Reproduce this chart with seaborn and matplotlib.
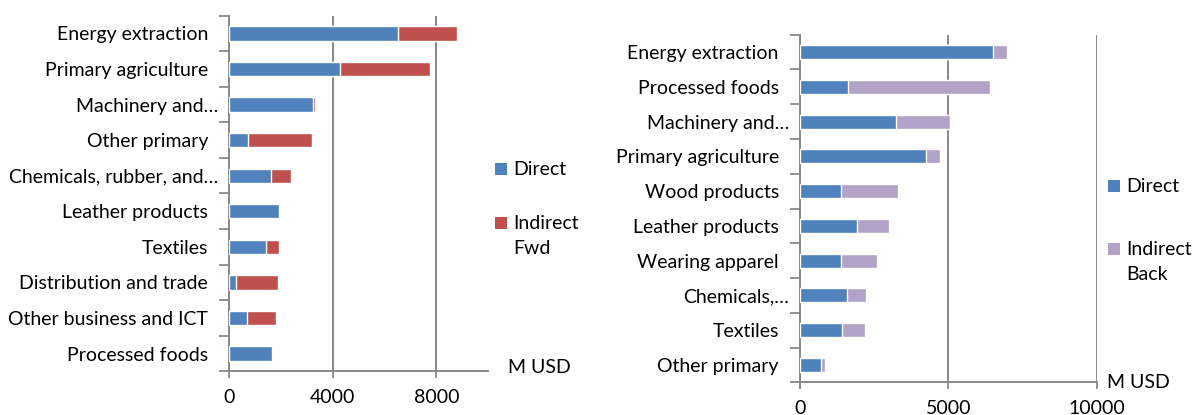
import matplotlib
matplotlib.use("Agg")
import matplotlib.pyplot as plt
from matplotlib.patches import Rectangle
from matplotlib.transforms import ScaledTranslation
import numpy as np
import pandas as pd
import seaborn as sns

# ---- data (M USD) ----
fwd_sectors = ["Energy extraction", "Primary agriculture", "Machinery and\u2026",
               "Other primary", "Chemicals, rubber, and\u2026", "Leather products",
               "Textiles", "Distribution and trade", "Other business and ICT",
               "Processed foods"]
fwd_direct = [6515, 4264, 3250, 720, 1605, 1940, 1420, 260, 710, 1640]
fwd_indirect = [2270, 3505, 60, 2490, 800, 20, 500, 1620, 1105, 60]

back_sectors = ["Energy extraction", "Processed foods", "Machinery and\u2026",
                "Primary agriculture", "Wood products", "Leather products",
                "Wearing apparel", "Chemicals,\u2026", "Textiles", "Other primary"]
back_direct = [6515, 1640, 3250, 4264, 1400, 1940, 1400, 1605, 1420, 720]
back_indirect = [455, 4765, 1810, 460, 1920, 1075, 1190, 630, 780, 120]

fwd_ticks = [0, 4000, 8000]
back_ticks = [0, 5000, 10000]
unit_label = "M USD"

BLUE = "#4F81BD"
RED = "#C0504D"
PURPLE = "#B3A2C7"
GRID = "#898989"
INK = "#000000"

sns.set_style("white")
plt.rcParams["font.family"] = ["Lato", "DejaVu Sans"]
plt.rcParams["text.color"] = INK
plt.rcParams["xtick.color"] = INK
plt.rcParams["ytick.color"] = INK
FS = 14

W, H = 1195, 415
fig = plt.figure(figsize=(W / 100, H / 100), dpi=100)


def px_axes(x0, y0, x1, y1):
    return fig.add_axes([x0 / W, 1 - y1 / H, (x1 - x0) / W, (y1 - y0) / H])


def stacked(ax, sectors, direct, indirect, color2, ticks, xmax):
    df = pd.DataFrame({"sector": sectors, "direct": direct, "indirect": indirect})
    df["total"] = df["direct"] + df["indirect"]
    sns.barplot(data=df, x="total", y="sector", orient="h", color=color2,
                width=0.4, errorbar=None, saturation=1, ax=ax, zorder=2)
    sns.barplot(data=df, x="direct", y="sector", orient="h", color=BLUE,
                width=0.4, errorbar=None, saturation=1, ax=ax, zorder=3)
    n = len(sectors)
    ax.set_xlim(0, xmax)
    ax.set_ylim(n - 0.5, -0.5)
    ax.set_xlabel("")
    ax.set_ylabel("")
    ax.set_xticks(ticks)
    ax.set_xticklabels([str(t) for t in ticks], fontsize=FS, color=INK)
    ax.set_yticks(np.arange(n))
    ax.set_yticklabels(sectors, fontsize=FS, color=INK)
    ax.set_yticks(np.arange(n + 1) - 0.5, minor=True)
    ax.tick_params(axis="y", which="major", length=0, pad=15)
    ax.tick_params(axis="y", which="minor", length=7, width=1.3, color=GRID,
                   direction="out", left=True)
    ax.tick_params(axis="x", which="major", length=5, width=1.3, color=GRID,
                   direction="out", bottom=True, pad=8)
    ax.xaxis.grid(True, color=GRID, lw=1.4)
    ax.yaxis.grid(False)
    ax.set_axisbelow(True)
    for s in ["top", "right"]:
        ax.spines[s].set_visible(False)
    for s in ["left", "bottom"]:
        ax.spines[s].set_color(GRID)
        ax.spines[s].set_linewidth(1.4)
    # truncated labels sit closer to the axis
    for lab in ax.get_yticklabels():
        if lab.get_text().endswith("\u2026"):
            lab.set_transform(lab.get_transform()
                              + ScaledTranslation(10 / 100, 0, fig.dpi_scale_trans))


ax1 = px_axes(229, 15.7, 488.3, 371.3)
stacked(ax1, fwd_sectors, fwd_direct, fwd_indirect, RED, fwd_ticks, 10000)

ax2 = px_axes(799.7, 34.7, 1096.7, 382.3)
stacked(ax2, back_sectors, back_direct, back_indirect, PURPLE, back_ticks, 10000)


def legend_item(x, y, color, lines, size=12):
    fig.add_artist(Rectangle(((x) / W, 1 - (y + size / 2) / H), size / W, size / H,
                             transform=fig.transFigure, color=color, lw=0))
    for i, line in enumerate(lines):
        fig.text((x + size + 6.5) / W, 1 - (y + 25 * i) / H, line, fontsize=FS,
                 va="center", ha="left", color=INK)


legend_item(495, 169, BLUE, ["Direct"])
legend_item(495, 223.5, RED, ["Indirect", "Fwd"])
legend_item(1107.5, 186, BLUE, ["Direct"])
legend_item(1107.5, 249, PURPLE, ["Indirect", "Back"])

fig.text(508 / W, 1 - 367.7 / H, unit_label, fontsize=FS, va="center", ha="left", color=INK)
fig.text(1106.7 / W, 1 - 382.3 / H, unit_label, fontsize=FS, va="center", ha="left", color=INK)

fig.savefig("out.png", dpi=100)
